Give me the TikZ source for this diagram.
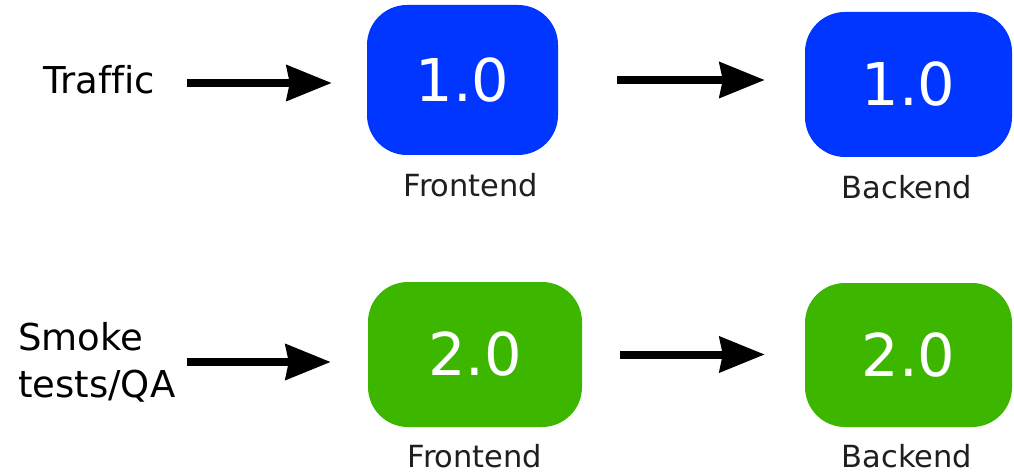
\documentclass[tikz,border=0pt]{standalone}
\usepackage{fontspec}
\setmainfont{DejaVu Sans}[Ligatures=NoCommon]
\usetikzlibrary{arrows.meta}
\definecolor{verblue}{HTML}{0036FF}
\definecolor{vergreen}{HTML}{3DB600}
\tikzset{
  verbox/.style={rounded corners=40pt, text=white, font=\fontsize{59}{61}\selectfont, inner sep=0pt},
  caption/.style={font=\fontsize{30.5}{32}\selectfont, text=black!88},
  source/.style={font=\fontsize{37}{47}\selectfont, anchor=west, align=left, inner sep=0pt},
  flow/.style={line width=8pt, -{Stealth[length=45pt,width=35pt,inset=3pt]}}
}
\begin{document}
\begin{tikzpicture}[x=1pt, y=-1pt]
\useasboundingbox (0,0) rectangle (1014,473);
\fill[white] (0,0) rectangle (1014,473);

% current release
\node[source] (traffic) at (43,80) {Traffic};
\node[verbox, fill=verblue, minimum width=191pt, minimum height=150pt] (fe1) at (462.5,80) {1.0};
\node[verbox, fill=verblue, minimum width=207pt, minimum height=145pt] (be1) at (908.5,84.5) {1.0};
\node[caption] (fe1l) at (471,185) {Frontend};
\node[caption] (be1l) at (907,187) {Backend};

% new release
\node[source] (smoke) at (18,362) {Smoke\\tests/QA};
\node[verbox, fill=vergreen, minimum width=214pt, minimum height=145pt] (fe2) at (475,354.5) {2.0};
\node[verbox, fill=vergreen, minimum width=207pt, minimum height=144pt] (be2) at (908.5,355) {2.0};
\node[caption] (fe2l) at (475,456) {Frontend};
\node[caption] (be2l) at (907,456) {Backend};

% connectors
\draw[flow, shorten <=32pt, shorten >=35pt] ([yshift=-3pt]traffic.east) -- ([yshift=-3pt]traffic.east -| fe1.west);
\draw[flow, shorten <=59pt, shorten >=40pt] (fe1.east) -- (fe1.east -| be1.west);
\draw[flow, shorten <=11pt, shorten >=37pt] (smoke.east) -- (smoke.east -| fe2.west);
\draw[flow, shorten <=38pt, shorten >=40pt] (fe2.east) -- (fe2.east -| be2.west);
\end{tikzpicture}
\end{document}
